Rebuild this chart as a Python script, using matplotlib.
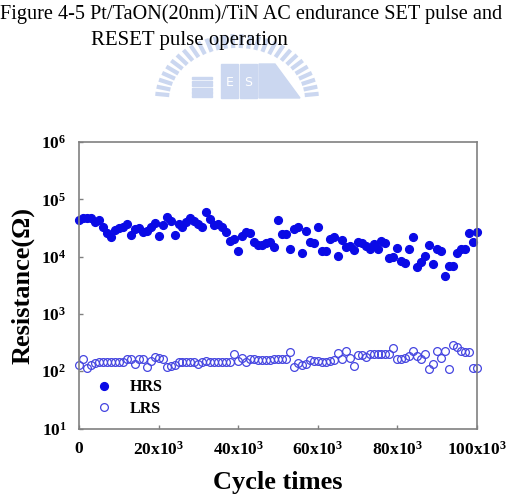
import numpy as np, matplotlib
matplotlib.use('Agg')
import matplotlib.pyplot as plt
from matplotlib import rcParams
from matplotlib.patches import Rectangle, Polygon

rcParams['font.family'] = ['Liberation Serif', 'DejaVu Serif']
rcParams['mathtext.fontset'] = 'custom'
rcParams['mathtext.rm'] = 'Liberation Serif'
rcParams['mathtext.bf'] = 'Liberation Serif:bold'

# cycle count of each measurement
cycles = np.arange(0, 100001, 1000)

hrs = [42700, 46800, 46800, 46800, 39800, 43700, 33100, 25700, 21900, 28800,
       31600, 33100, 37200, 24000, 30200, 31600, 26900, 28200, 33100, 38900,
       22900, 35500, 49000, 41700, 24000, 37200, 33100, 39800, 46800, 41700,
       37200, 33100, 60300, 45700, 35500, 37200, 33100, 26900, 18600, 20000,
       12600, 22900, 26900, 25700, 18200, 15800, 15800, 17400, 18200, 14800,
       43700, 24500, 24500, 13500, 30200, 33100, 11500, 28200, 18200, 17400,
       33100, 12600, 12600, 20000, 21900, 10200, 19500, 14800, 15500, 12900,
       18200, 17400, 15500, 13500, 16600, 13500, 18600, 17400, 9300, 9800,
       14100, 8500, 7800, 13500, 21900, 6600, 8100, 10200, 15800, 7400,
       13500, 12600, 4600, 6900, 6900, 11500, 13500, 13500, 25700, 18200, 26900]

lrs = [128, 161, 112, 128, 137, 147, 147, 143, 143, 143,
       147, 143, 161, 161, 132, 161, 161, 117, 153, 175,
       168, 165, 117, 123, 128, 145, 145, 145, 143, 143,
       134, 143, 149, 145, 143, 143, 143, 143, 143, 197,
       153, 168, 147, 161, 161, 157, 157, 157, 157, 161,
       161, 161, 165, 213, 120, 141, 128, 132, 157, 151,
       153, 147, 143, 153, 157, 211, 161, 228, 168, 123,
       194, 192, 179, 200, 200, 200, 200, 200, 200, 251,
       161, 161, 168, 187, 225, 184, 161, 200, 108, 132,
       225, 168, 225, 108, 286, 261, 228, 213, 213, 112, 112]

xticks = [0, 20000, 40000, 60000, 80000, 100000]
xlabels = ['0', r'$\mathbf{20x10^{3}}$', r'$\mathbf{40x10^{3}}$',
           r'$\mathbf{60x10^{3}}$', r'$\mathbf{80x10^{3}}$', r'$\mathbf{100x10^{3}}$']
yticks = [1e1, 1e2, 1e3, 1e4, 1e5, 1e6]
ylabels = [r'$\mathbf{10^{%d}}$' % k for k in range(1, 7)]

W, H = 511, 497
fig = plt.figure(figsize=(W / 100, H / 100), dpi=100)

# caption
fig.text(0.0, 1 - 14 / H, 'Figure 4-5 Pt/TaON(20nm)/TiN AC endurance SET pulse and',
         fontsize=14.6, va='center', ha='left')
fig.text(91 / W, 1 - 40 / H, 'RESET pulse operation', fontsize=15, va='center', ha='left')

# faint watermark logo
wm = fig.add_axes([0, 0, 1, 1], zorder=-1)
wm.set_xlim(0, W)
wm.set_ylim(H, 0)
wm.axis('off')
wc = '#cbd7f0'
cx, cy = 237, 100
for a in np.linspace(np.pi * 0.03, np.pi * 0.97, 28):
    wm.plot([cx + 68 * np.cos(a), cx + 82 * np.cos(a)],
            [cy - 52 * np.sin(a), cy - 66 * np.sin(a)], color=wc, lw=3, solid_capstyle='butt')
for k in range(6):
    wm.add_patch(Rectangle((192, 77 + k * 3.6), 20, 2.2, color=wc))
wm.add_patch(Rectangle((221, 64), 17, 34, color=wc))
wm.add_patch(Rectangle((240, 64), 17, 34, color=wc))
wm.text(229.5, 83, 'E', color='white', fontsize=9, ha='center', va='center', family='DejaVu Sans')
wm.text(248.5, 83, 'S', color='white', fontsize=9, ha='center', va='center', family='DejaVu Sans')
wm.add_patch(Polygon([[259, 98], [259, 64], [275, 64], [300, 98]], color=wc))

ax = fig.add_axes([79 / W, 1 - 428.5 / H, 398 / W, 286.5 / H])
ax.plot(cycles, hrs, 'o', color='#0a0ae6', markersize=5.6, label='HRS', clip_on=False)
ax.plot(cycles, lrs, 'o', markerfacecolor='none', markeredgecolor='#4545e0',
        markeredgewidth=0.9, markersize=5.6, label='LRS', clip_on=False)

ax.set_yscale('log')
ax.set_xlim(0, 100000)
ax.set_ylim(10, 1e6)
ax.set_xticks(xticks, xlabels)
ax.set_yticks(yticks, ylabels)
ax.minorticks_off()
ax.tick_params(direction='in', length=3, width=1, color='#808080', labelsize=12.5, pad=9)
for lab in ax.get_xticklabels() + ax.get_yticklabels():
    lab.set_fontweight('bold')
for s in ax.spines.values():
    s.set_color('#808080')
    s.set_linewidth(1.2)

ax.set_xlabel('Cycle times', fontsize=19, fontweight='bold', labelpad=9)
ax.set_ylabel('Resistance(Ω)', fontsize=19, fontweight='bold', labelpad=5)

ax.legend(loc='lower left', bbox_to_anchor=(0.003, -0.01), frameon=False,
          handlelength=1.2, handletextpad=1.0, labelspacing=0.35,
          prop={'weight': 'bold', 'size': 11.5})

plt.savefig('out.png', dpi=100)
